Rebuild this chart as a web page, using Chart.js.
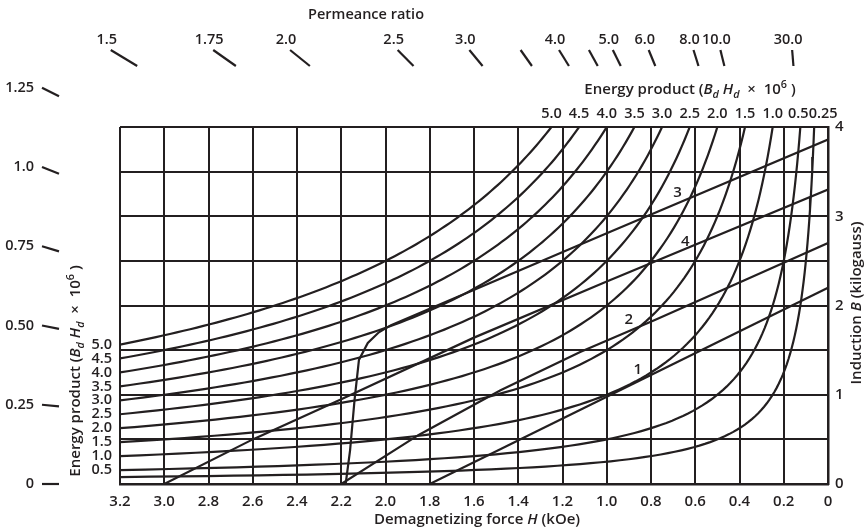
<!DOCTYPE html>
<html>
<head>
<meta charset="utf-8">
<script src="https://cdn.jsdelivr.net/npm/chart.js@4.4.0/dist/chart.umd.min.js"></script>
<style>
  html, body { margin: 0; padding: 0; background: #fff; }
  #wrap { width: 867px; height: 531px; }
</style>
</head>
<body>
<div id="wrap"><canvas id="demag" width="867" height="531"></canvas></div>
<script>
// energy product contours (Bd Hd x 10^6)
var energyContours = [0.25, 0.5, 1.0, 1.5, 2.0, 2.5, 3.0, 3.5, 4.0, 4.5, 5.0];
var energyLeft = [5.0, 4.5, 4.0, 3.5, 3.0, 2.5, 2.0, 1.5, 1.0, 0.5];
var energyLeftLabels = ["5.0", "4.5", "4.0", "3.5", "3.0", "2.5", "2.0", "1.5", "1.0", "0.5"];
var energyTop = [5.0, 4.5, 4.0, 3.5, 3.0, 2.5, 2.0, 1.5, 1.0, 0.5, 0.25];
var energyTopLabels = ["5.0", "4.5", "4.0", "3.5", "3.0", "2.5", "2.0", "1.5", "1.0", "0.5", "0.25"];

// permeance ratio marks (B/H)
var permeanceTop = [1.5, 1.75, 2.0, 2.5, 3.0, 3.5, 4.0, 4.5, 5.0, 6.0, 8.0, 10.0, 30.0];
var permeanceTopLabels = ["1.5", "1.75", "2.0", "2.5", "3.0", "", "4.0", "", "5.0", "6.0", "8.0", "10.0", "30.0"];
var permeanceLeft = [1.25, 1.0, 0.75, 0.5, 0.25, 0];
var permeanceLeftLabels = ["1.25", "1.0", "0.75", "0.50", "0.25", "0"];

// demagnetization curves: H in kOe, B in kilogauss
var curve1H = [0, 1.8];
var curve1B = [2.2, 0];
var curve2H = [0, 0.38, 0.78, 1.12, 1.48, 1.85, 2.2];
var curve2B = [2.7, 2.28, 1.84, 1.48, 1.05, 0.55, 0];
var curve3H = [0, 1.0, 1.975, 2.03, 2.08, 2.12, 2.14, 2.16, 2.18];
var curve3B = [3.86, 2.81, 1.78, 1.70, 1.58, 1.39, 0.94, 0.38, 0];
var curve4H = [0, 1.0, 1.6, 2.2, 2.6, 3.0];
var curve4B = [3.3, 2.27, 1.64, 0.95, 0.5, 0];

var curveNames = ["1", "2", "3", "4"];
var curveLabelH = [0.86, 0.9, 0.68, 0.645];
var curveLabelB = [1.28, 1.84, 3.26, 2.71];

var hTicks = [3.2, 3.0, 2.8, 2.6, 2.4, 2.2, 2.0, 1.8, 1.6, 1.4, 1.2, 1.0, 0.8, 0.6, 0.4, 0.2, 0];

var ink = "#231f20";
var fam = '"Open Sans", "DejaVu Sans", sans-serif';

function pairs(hs, bs) {
  return hs.map(function (h, i) { return { x: h, y: bs[i] }; });
}

// Bd*Hd = e, traced from the top edge (B = 4) out to H = 3.2
function contour(e) {
  var pts = [];
  var h0 = e / 4, n = 90;
  for (var i = 0; i <= n; i++) {
    var h = h0 * Math.pow(3.2 / h0, i / n);
    pts.push({ x: h, y: e / h });
  }
  return pts;
}

function font(size, italic) {
  return (italic ? "italic " : "") + "600 " + size + "px " + fam;
}

// draw a label made of plain / italic / sub / superscript pieces, centred on (cx, cy)
function richText(c, parts, cx, cy, size, angle) {
  c.save();
  c.translate(cx, cy);
  c.rotate(angle || 0);
  c.textBaseline = "middle";
  c.textAlign = "left";
  var w = 0;
  parts.forEach(function (p) {
    c.font = font(p.sub || p.sup ? size * 0.72 : size, p.it);
    w += c.measureText(p.t).width;
  });
  var x = -w / 2;
  parts.forEach(function (p) {
    c.font = font(p.sub || p.sup ? size * 0.72 : size, p.it);
    var dy = p.sub ? size * 0.3 : p.sup ? -size * 0.35 : 0;
    c.fillText(p.t, x, dy);
    x += c.measureText(p.t).width;
  });
  c.restore();
}

var energyTitle = [
  { t: "Energy product (" }, { t: "B", it: 1 }, { t: "d", it: 1, sub: 1 },
  { t: " H", it: 1 }, { t: "d", it: 1, sub: 1 }, { t: "  \u00d7  10" }, { t: "6", sup: 1 }, { t: " )" }
];

var overlay = {
  id: "overlay",
  afterDraw: function (chart) {
    var c = chart.ctx, xs = chart.scales.x, ys = chart.scales.y;
    c.save();
    c.fillStyle = ink;
    c.strokeStyle = ink;
    c.lineWidth = 2.2;

    // permeance ratio ticks along rays from the origin
    c.font = font(14.5);
    c.textAlign = "center";
    c.textBaseline = "middle";
    var bTop1 = ys.getValueForPixel(50), bTop2 = ys.getValueForPixel(66);
    permeanceTop.forEach(function (r, i) {
      var x1 = xs.getPixelForValue(bTop1 / r), x2 = xs.getPixelForValue(bTop2 / r);
      c.beginPath();
      c.moveTo(x1, 50);
      c.lineTo(x2, 66);
      c.stroke();
      if (permeanceTopLabels[i]) c.fillText(permeanceTopLabels[i], x1 - 4, 40);
    });
    var hL1 = xs.getValueForPixel(42), hL2 = xs.getValueForPixel(59);
    c.textAlign = "right";
    permeanceLeft.forEach(function (r, i) {
      var y1 = ys.getPixelForValue(r * hL1), y2 = ys.getPixelForValue(r * hL2);
      c.beginPath();
      c.moveTo(42, y1);
      c.lineTo(59, y2);
      c.stroke();
      c.fillText(permeanceLeftLabels[i], 34, y1);
    });
    c.font = font(14.5);
    c.textAlign = "center";
    c.fillText("Permeance ratio", 366, 15);

    // energy product labels where each contour leaves the plot
    c.font = font(14.5);
    c.textAlign = "right";
    energyLeft.forEach(function (e, i) {
      c.fillText(energyLeftLabels[i], 112, ys.getPixelForValue(e / 3.2));
    });
    c.textAlign = "center";
    energyTop.forEach(function (e, i) {
      // the last two labels crowd together, nudge them apart as in the original
      var nudge = e === 0.25 ? 9 : e === 0.5 ? -2 : 0;
      c.fillText(energyTopLabels[i], xs.getPixelForValue(e / 4) + nudge, 114);
    });
    richText(c, energyTitle, 690, 90, 15, 0);
    richText(c, energyTitle, 76, 371, 15, -Math.PI / 2);

    // curve numbers
    c.font = font(15);
    c.textAlign = "center";
    curveNames.forEach(function (n, i) {
      c.fillText(n, xs.getPixelForValue(curveLabelH[i]), ys.getPixelForValue(curveLabelB[i]));
    });

    // axis titles
    richText(c, [{ t: "Demagnetizing force " }, { t: "H", it: 1 }, { t: " (kOe)" }], 477, 520, 15, 0);
    richText(c, [{ t: "Induction " }, { t: "B", it: 1 }, { t: " (kilogauss)" }], 857, 303, 15, -Math.PI / 2);
    c.restore();
  }
};

var datasets = energyContours.map(function (e) {
  return { data: contour(e) };
});
datasets.push({ data: pairs(curve1H, curve1B) });
datasets.push({ data: pairs(curve2H, curve2B) });
datasets.push({ data: pairs(curve3H, curve3B) });
datasets.push({ data: pairs(curve4H, curve4B) });
datasets.forEach(function (d) {
  d.showLine = true;
  d.borderColor = ink;
  d.borderWidth = 2.2;
  d.pointRadius = 0;
  d.tension = 0;
});

var chart = new Chart(document.getElementById("demag"), {
  type: "scatter",
  data: { datasets: datasets },
  options: {
    responsive: false,
    animation: false,
    events: [],
    layout: { padding: { left: 120, top: 127, right: 0, bottom: 0 } },
    plugins: { legend: { display: false }, tooltip: { enabled: false } },
    scales: {
      x: {
        type: "linear",
        reverse: true,
        min: 0,
        max: 3.2,
        afterFit: function (s) { s.height = 47; },
        afterBuildTicks: function (s) { s.ticks = hTicks.map(function (v) { return { value: v }; }); },
        grid: { color: ink, lineWidth: 2, drawTicks: false },
        border: { color: ink, width: 2.5 },
        ticks: {
          color: ink,
          padding: 9,
          maxRotation: 0,
          autoSkip: false,
          font: { family: fam, size: 15, weight: "600" },
          callback: function (v) { return v === 0 ? "0" : v.toFixed(1); }
        }
      },
      y: {
        type: "linear",
        position: "right",
        min: 0,
        max: 4,
        afterFit: function (s) { s.width = 39; },
        grid: { color: ink, lineWidth: 2, drawTicks: false },
        border: { color: ink, width: 2.5 },
        ticks: {
          color: ink,
          stepSize: 0.5,
          padding: 7,
          font: { family: fam, size: 15, weight: "600" },
          callback: function (v) { return Number.isInteger(v) ? String(v) : ""; }
        }
      }
    }
  },
  plugins: [overlay]
});
</script>
</body>
</html>
